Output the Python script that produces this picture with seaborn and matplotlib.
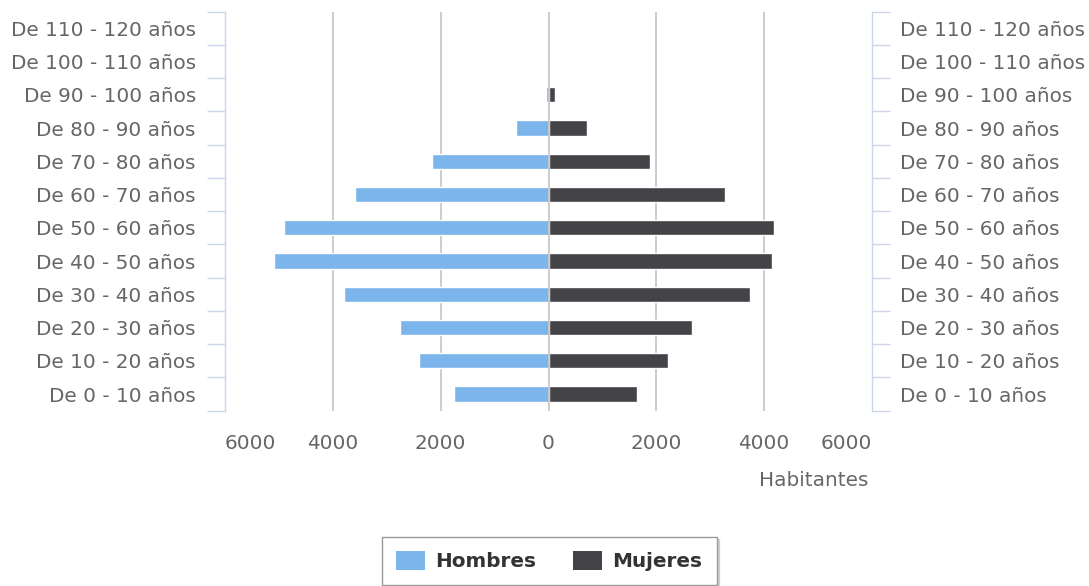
import matplotlib
matplotlib.use("Agg")
import matplotlib.pyplot as plt
from matplotlib.patches import Patch
from matplotlib.ticker import FixedLocator
import seaborn as sns
import pandas as pd

# Age groups, youngest first
categories = [
    "De 0 - 10 años", "De 10 - 20 años", "De 20 - 30 años", "De 30 - 40 años",
    "De 40 - 50 años", "De 50 - 60 años", "De 60 - 70 años", "De 70 - 80 años",
    "De 80 - 90 años", "De 90 - 100 años", "De 100 - 110 años", "De 110 - 120 años",
]
hombres = [1750, 2400, 2760, 3800, 5090, 4900, 3590, 2160, 600, 50, 0, 0]
mujeres = [1650, 2210, 2655, 3735, 4150, 4185, 3280, 1890, 715, 125, 0, 0]

x_ticks = [-6000, -4000, -2000, 0, 2000, 4000, 6000]
x_labels = [str(abs(v)) for v in x_ticks]

COLOR_H = "#7cb5ec"
COLOR_M = "#434348"
LABEL_COLOR = "#666666"
AXIS_COLOR = "#ccd6eb"
GRID_COLOR = "#c4c4c4"
FS = 14.4

sns.set_theme(style="white")
plt.rcParams["font.family"] = ["DejaVu Sans"]

W, H = 1089, 586
fig = plt.figure(figsize=(W / 100, H / 100), dpi=100)
left, right, top, bottom = 225, 872, 11.7, 410.7
ax = fig.add_axes([left / W, 1 - bottom / H, (right - left) / W, (bottom - top) / H])

order = categories[::-1]  # oldest group at the top
df = pd.DataFrame({
    "grupo": categories,
    "Hombres": [-v for v in hombres],
    "Mujeres": mujeres,
})

sns.barplot(data=df, x="Hombres", y="grupo", order=order, orient="h",
            color=COLOR_H, saturation=1, width=0.46,
            edgecolor="white", linewidth=1, ax=ax)
sns.barplot(data=df, x="Mujeres", y="grupo", order=order, orient="h",
            color=COLOR_M, saturation=1, width=0.46,
            edgecolor="white", linewidth=1, ax=ax)

# empty groups leave no mark
for p in ax.patches:
    if p.get_width() == 0:
        p.set_visible(False)

n = len(categories)
ax.set_xlim(-6000, 6000)
ax.set_ylim(n - 0.5, -0.5)
ax.set_xlabel("")
ax.set_ylabel("")

# vertical grid on interior ticks; the zero line stays visible between the halves
for v in x_ticks[1:-1]:
    ax.axvline(v, color=GRID_COLOR, lw=1.2, zorder=5 if v == 0 else 0)

ax.set_xticks(x_ticks)
ax.set_xticklabels(x_labels)
ax.tick_params(axis="x", length=0, pad=17, labelsize=FS, labelcolor=LABEL_COLOR)
xt = ax.get_xticklabels()
xt[0].set_horizontalalignment("left")
xt[-1].set_horizontalalignment("right")

boundaries = [i - 0.5 for i in range(n + 1)]

# left category axis
ax.set_yticks(range(n))
ax.set_yticklabels(order)
ax.yaxis.set_minor_locator(FixedLocator(boundaries))
ax.tick_params(axis="y", which="major", length=0, pad=21, labelsize=FS,
               labelcolor=LABEL_COLOR)
ax.tick_params(axis="y", which="minor", length=13, width=1, color=AXIS_COLOR,
               direction="out", left=True)
for s in ["top", "bottom", "right"]:
    ax.spines[s].set_visible(False)
ax.spines["left"].set_color(AXIS_COLOR)
ax.spines["left"].set_linewidth(1)

# right category axis
ax2 = ax.twinx()
ax2.set_ylim(ax.get_ylim())
ax2.set_yticks(range(n))
ax2.set_yticklabels(order)
ax2.yaxis.set_minor_locator(FixedLocator(boundaries))
ax2.tick_params(axis="y", which="major", length=0, pad=20, labelsize=FS,
                labelcolor=LABEL_COLOR)
ax2.tick_params(axis="y", which="minor", length=13, width=1, color=AXIS_COLOR,
                direction="out", right=True)
for s in ["top", "bottom", "left"]:
    ax2.spines[s].set_visible(False)
ax2.spines["right"].set_color(AXIS_COLOR)
ax2.spines["right"].set_linewidth(1)
ax2.grid(False)

fig.text(868 / W, 1 - 480 / H, "Habitantes", ha="right", va="center",
         fontsize=FS, color=LABEL_COLOR)

handles = [Patch(facecolor=COLOR_H, edgecolor="none"),
           Patch(facecolor=COLOR_M, edgecolor="none")]
leg = fig.legend(handles, ["Hombres", "Mujeres"], loc="upper center",
                 bbox_to_anchor=(549 / W, 1 - 537 / H), ncol=2,
                 prop={"weight": "bold", "size": FS}, labelcolor="#333333",
                 handlelength=1.45, handleheight=1.05, handletextpad=0.55,
                 columnspacing=1.8, borderpad=0.7, borderaxespad=0,
                 frameon=True, fancybox=False,
                 shadow={"ox": 1.5, "oy": -1.5, "color": "#bbbbbb", "alpha": 0.6})
leg.get_frame().set_edgecolor("#999999")
leg.get_frame().set_linewidth(1)

fig.savefig("out.png", dpi=100)
